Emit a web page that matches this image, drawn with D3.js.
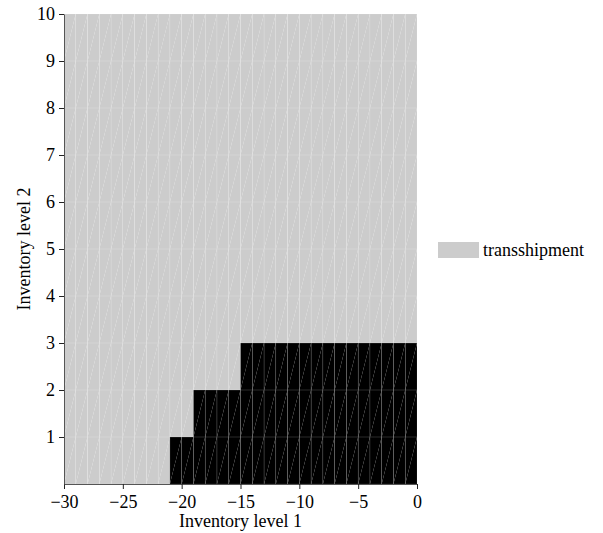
<!DOCTYPE html>
<html>
<head>
<meta charset="utf-8">
<script src="https://cdn.jsdelivr.net/npm/d3@7"></script>
<style>
  body { margin: 0; background: #fff; }
  text { font-family: "Liberation Serif", "DejaVu Serif", serif; }
</style>
</head>
<body>
<div id="chart"></div>
<script>
// cell grid: inventory level 1 (left edges) and inventory level 2 (bottom edges)
var level1 = d3.range(-30, 0);        // -30 .. -1
var level2 = d3.range(0, 10);         // 0 .. 9
// for each row of level 2, first level-1 cell that is NOT transshipment (black)
var blackStart = [-21, -19, -15];     // rows 0,1,2 ; other rows all transshipment
var xTicks = [-30, -25, -20, -15, -10, -5, 0];
var yTicks = [1, 2, 3, 4, 5, 6, 7, 8, 9, 10];
var legendLabels = ['transshipment'];

var width = 603, height = 533;
var margin = {left: 64, right: 186, top: 14, bottom: 49};
var fontSize = 18;

var svg = d3.select("#chart").append("svg")
    .attr("width", width).attr("height", height);

var x = d3.scaleLinear().domain([-30, 0]).range([margin.left, width - margin.right]);
var y = d3.scaleLinear().domain([0, 10]).range([height - margin.bottom, margin.top]);

// build cells
var cells = [];
level2.forEach(function(j) {
  level1.forEach(function(i) {
    var b = blackStart[j];
    var trans = (b === undefined) || i < b;
    cells.push({x0: i, x1: i + 1, y0: j, y1: j + 1, trans: trans});
  });
});

// each cell drawn as two triangles split on the / diagonal
var tris = [];
cells.forEach(function(c) {
  tris.push({pts: [[c.x0, c.y0], [c.x1, c.y0], [c.x1, c.y1]], trans: c.trans});
  tris.push({pts: [[c.x0, c.y0], [c.x1, c.y1], [c.x0, c.y1]], trans: c.trans});
});

svg.append("g").selectAll("path")
  .data(tris)
  .enter().append("path")
  .attr("d", function(d) {
    return "M" + d.pts.map(function(p) { return x(p[0]) + "," + y(p[1]); }).join("L") + "Z";
  })
  .attr("fill", function(d) { return d.trans ? "#cccccc" : "#000000"; });

// faint seams along the cell edges
svg.append("g").selectAll("rect")
  .data(cells)
  .enter().append("rect")
  .attr("x", function(d) { return x(d.x0); })
  .attr("y", function(d) { return y(d.y1); })
  .attr("width", function(d) { return x(d.x1) - x(d.x0); })
  .attr("height", function(d) { return y(d.y0) - y(d.y1); })
  .attr("fill", "none")
  .attr("stroke", "#fff")
  .attr("stroke-opacity", 0.18)
  .attr("stroke-width", 0.5);

// axes
var minus = function(v) { return String(v).replace("-", "\u2212"); };

var xAxis = svg.append("g")
  .attr("transform", "translate(0," + (height - margin.bottom) + ")")
  .call(d3.axisBottom(x).tickValues(xTicks).tickSize(5).tickSizeOuter(0).tickFormat(minus));

var yAxis = svg.append("g")
  .attr("transform", "translate(" + margin.left + ",0)")
  .call(d3.axisLeft(y).tickValues(yTicks).tickSize(5).tickSizeOuter(0));

[xAxis, yAxis].forEach(function(a) {
  a.attr("font-family", null).attr("font-size", null);
  a.selectAll("path").attr("stroke", "#555");
  a.selectAll("line").attr("stroke", "#222");
  a.selectAll("text")
    .style("font-family", "'Liberation Serif', serif")
    .style("font-size", fontSize + "px")
    .attr("fill", "#000");
});
xAxis.selectAll("text").attr("dy", "0.9em");
yAxis.selectAll("text").attr("x", -9);

svg.append("text")
  .attr("x", x(-15)).attr("y", 527)
  .attr("text-anchor", "middle")
  .style("font-size", fontSize + "px")
  .text("Inventory level 1");

svg.append("text")
  .attr("transform", "translate(30," + y(5) + ") rotate(-90)")
  .attr("text-anchor", "middle")
  .style("font-size", fontSize + "px")
  .text("Inventory level 2");

// legend
var legend = svg.append("g").selectAll("g")
  .data(legendLabels)
  .enter().append("g")
  .attr("transform", function(d, i) { return "translate(438," + (242 + i * 22) + ")"; });
legend.append("rect").attr("width", 41).attr("height", 16).attr("fill", "#cccccc");
legend.append("text").attr("x", 45).attr("y", 14)
  .style("font-size", fontSize + "px")
  .text(function(d) { return d; });
</script>
</body>
</html>
